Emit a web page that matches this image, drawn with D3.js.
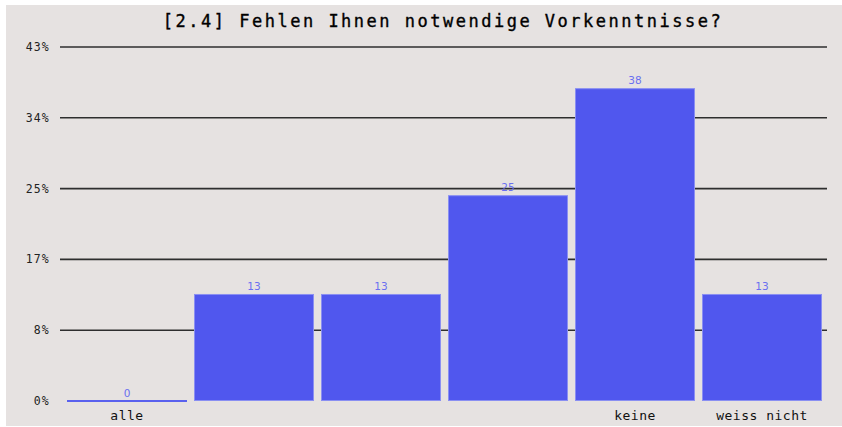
<!DOCTYPE html>
<html>
<head>
<meta charset="utf-8">
<script src="https://cdn.jsdelivr.net/npm/d3@7"></script>
<style>
  html, body { margin: 0; padding: 0; background: #fff; }
</style>
</head>
<body>
<div id="chart"></div>
<script>
// Data
const categories = ["1", "2", "3", "4", "5", "6"];
const categoryLabels = ["alle", "", "", "", "keine", "weiss nicht"];
const values = [0, 13, 13, 25, 38, 13];
const yMax = 43;
const yTicks = [0, 8.6, 17.2, 25.8, 34.4, 43];

const title = "[2.4] Fehlen Ihnen notwendige Vorkenntnisse?";

const W = 842, H = 427;
const svg = d3.select("#chart").append("svg")
    .attr("width", W)
    .attr("height", H);

// grey panel
svg.append("rect")
    .attr("x", 6).attr("y", 5)
    .attr("width", W - 6).attr("height", H - 6)
    .attr("fill", "#e6e2e1");

const x = d3.scaleBand()
    .domain(categories)
    .range([63.5, 825.5])
    .paddingInner(7 / 127)
    .paddingOuter(3.5 / 127);

const y = d3.scaleLinear()
    .domain([0, yMax])
    .range([401, 47]);

// title
svg.append("text")
    .attr("x", 443)
    .attr("y", 27)
    .attr("text-anchor", "middle")
    .style("font-family", "'DejaVu Sans Mono', monospace")
    .style("font-size", "17px")
    .style("letter-spacing", "2.5px")
    .style("fill", "#000")
    .style("stroke", "#000")
    .style("stroke-width", "0.35px")
    .text(title);

// gridlines (none at zero)
svg.append("g")
    .selectAll("line")
    .data(yTicks.filter(d => d > 0))
    .enter().append("line")
    .attr("x1", 60)
    .attr("x2", 827)
    .attr("y1", d => y(d))
    .attr("y2", d => y(d))
    .attr("stroke", "#2e2e2e")
    .attr("stroke-width", 1.6);

// y tick labels
svg.append("g")
    .selectAll("text")
    .data(yTicks)
    .enter().append("text")
    .attr("x", 50)
    .attr("y", d => y(d) + 4)
    .attr("text-anchor", "end")
    .style("font-family", "'DejaVu Sans Mono', monospace")
    .style("font-size", "11.5px")
    .style("letter-spacing", "1.2px")
    .style("fill", "#222")
    .text(d => Math.floor(d) + "%");

// bars
svg.append("g")
    .selectAll("rect")
    .data(values)
    .enter().append("rect")
    .attr("x", (d, i) => x(categories[i]) + 0.5)
    .attr("y", d => Math.min(y(d), y(0) - 1) + 0.5)
    .attr("width", x.bandwidth() - 1)
    .attr("height", d => Math.max(y(0) - y(d), 1) - 1 + (d === 0 ? 1 : 0))
    .attr("fill", "#5057ee")
    .attr("stroke", d => d === 0 ? "#5a61ee" : "#8a8ff2")
    .attr("stroke-width", 1);

// value labels
svg.append("g")
    .selectAll("text")
    .data(values)
    .enter().append("text")
    .attr("x", (d, i) => x(categories[i]) + x.bandwidth() / 2)
    .attr("y", d => y(d) - 4)
    .attr("text-anchor", "middle")
    .style("font-family", "'DejaVu Sans', sans-serif")
    .style("font-size", "10.5px")
    .style("fill", "#6a70f0")
    .text(d => d);

// category labels
svg.append("g")
    .selectAll("text")
    .data(categoryLabels)
    .enter().append("text")
    .attr("x", (d, i) => x(categories[i]) + x.bandwidth() / 2)
    .attr("y", 420)
    .attr("text-anchor", "middle")
    .style("font-family", "'DejaVu Sans Mono', monospace")
    .style("font-size", "13px")
    .style("letter-spacing", "0.5px")
    .style("fill", "#111")
    .text(d => d);
</script>
</body>
</html>
